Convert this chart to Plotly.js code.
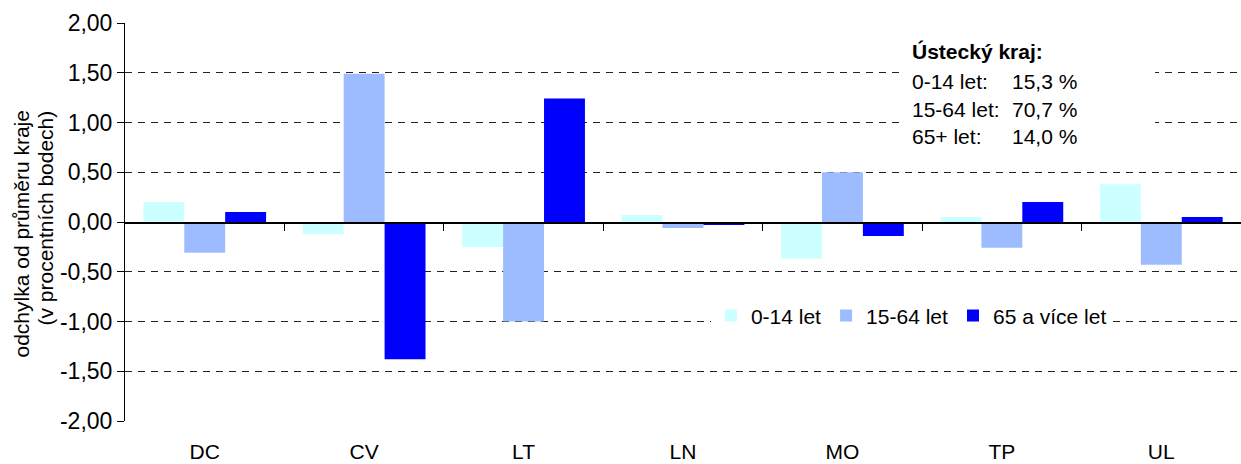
<!DOCTYPE html>
<html>
<head>
<meta charset="utf-8">
<script src="https://cdn.plot.ly/plotly-3.0.1.min.js"></script>
<style>html,body{margin:0;padding:0;background:#fff;}#chart{width:1241px;height:464px;}</style>
</head>
<body>
<div id="chart"></div>
<script>
const categories = ["DC", "CV", "LT", "LN", "MO", "TP", "UL"];
const seriesNames = ["0-14 let", "15-64 let", "65 a více let"];
const age0_14 = [0.20, -0.12, -0.25, 0.07, -0.37, 0.05, 0.38];
const age15_64 = [-0.31, 1.49, -1.00, -0.06, 0.50, -0.26, -0.43];
const age65plus = [0.10, -1.38, 1.24, -0.03, -0.14, 0.20, 0.05];
const yTicks = [-2, -1.5, -1, -0.5, 0, 0.5, 1, 1.5, 2];
const boxTitle = "Ústecký kraj:";
const boxLabels = ["0-14 let:", "15-64 let:", "65+ let:"];
const boxValues = ["15,3 %", "70,7 %", "14,0 %"];
const yTitleLines = ["odchylka od průměru kraje", "(v procentních bodech)"];

const colors = ["#ccffff", "#9cbcff", "#0000ff"];
const FONT = "Liberation Sans, Arial, sans-serif";
const FS = 21;
const seriesData = [age0_14, age15_64, age65plus];

const traces = seriesData.map((vals, i) => ({
  type: "bar",
  name: seriesNames[i],
  x: categories.map((c, k) => k),
  y: vals,
  marker: {color: colors[i], line: {width: 0}},
  hoverinfo: "y"
}));

const boundaries = categories.slice(1).map((c, k) => k + 0.5);
const yTickText = yTicks.map(v => v.toFixed(2).replace(".", ","));

const boxYs = [1.71, 1.41, 1.135, 0.864];
const annotations = [];
annotations.push({xref: "paper", yref: "y", x: 0.703, y: boxYs[0], xanchor: "left", yanchor: "middle",
  text: "<b>" + boxTitle + "</b>", showarrow: false, font: {family: FONT, size: FS, color: "#000"}});
boxLabels.forEach((t, i) => {
  annotations.push({xref: "paper", yref: "y", x: 0.703, y: boxYs[i + 1], xanchor: "left", yanchor: "middle",
    text: t, showarrow: false, font: {family: FONT, size: FS, color: "#000"}});
  annotations.push({xref: "paper", yref: "y", x: 0.855, y: boxYs[i + 1], xanchor: "right", yanchor: "middle",
    text: boxValues[i], showarrow: false, font: {family: FONT, size: FS, color: "#000"}});
});
// y-axis title: two rotated lines, both ending at the same height
const titleX = [-0.0923, -0.0708];
yTitleLines.forEach((t, i) => {
  annotations.push({xref: "paper", yref: "paper", x: titleX[i], y: 0.7864, xanchor: "center", yanchor: "top",
    text: t, textangle: -90, showarrow: false, font: {family: FONT, size: FS, color: "#000"}});
});

const layout = {
  width: 1241, height: 464,
  margin: {l: 125, r: 0, t: 23, b: 43, pad: 0},
  paper_bgcolor: "#fff", plot_bgcolor: "#fff",
  separators: ", ",
  font: {family: FONT, size: FS, color: "#000"},
  barmode: "group", bargap: 0.23, bargroupgap: 0,
  showlegend: true,
  legend: {orientation: "h", x: 0.525, y: 0.264, xanchor: "left", yanchor: "middle",
    bgcolor: "#fff", font: {family: FONT, size: FS, color: "#000"}, traceorder: "normal",
    itemwidth: 30, tracegroupgap: 0},
  xaxis: {
    type: "linear", range: [-0.5, categories.length - 0.5],
    tickvals: categories.map((c, k) => k), ticktext: categories,
    showgrid: false, zeroline: false, showline: false,
    ticks: "outside", ticklen: 12, tickcolor: "rgba(0,0,0,0)",
    tickfont: {family: FONT, size: FS, color: "#000"}
  },
  xaxis2: {
    type: "linear", range: [-0.5, categories.length - 0.5], overlaying: "x",
    anchor: "free", position: 0.5, side: "bottom",
    showline: true, linecolor: "#000", linewidth: 1.5,
    tickvals: boundaries, showticklabels: false,
    ticks: "outside", ticklen: 7, tickcolor: "#000", tickwidth: 1,
    showgrid: false, zeroline: false
  },
  yaxis: {
    range: [-2, 2], tickvals: yTicks, ticktext: yTickText,
    showline: true, linecolor: "#000", linewidth: 1,
    ticks: "outside", ticklen: 7, tickcolor: "#000", tickwidth: 1,
    showgrid: true, gridcolor: "#222", gridwidth: 1, griddash: "7px,6px",
    zeroline: false,
    tickfont: {family: FONT, size: 23, color: "#000"}
  },
  shapes: [{type: "rect", xref: "paper", yref: "y", x0: 0.699, x1: 0.923, y0: 0.74, y1: 1.85,
    fillcolor: "#fff", line: {width: 0}, layer: "above"}],
  annotations: annotations
};

traces.push({type: "scatter", x: [], y: [], xaxis: "x2", yaxis: "y", showlegend: false, hoverinfo: "skip"});

Plotly.newPlot("chart", traces, layout, {displayModeBar: false, staticPlot: true});
</script>
</body>
</html>
